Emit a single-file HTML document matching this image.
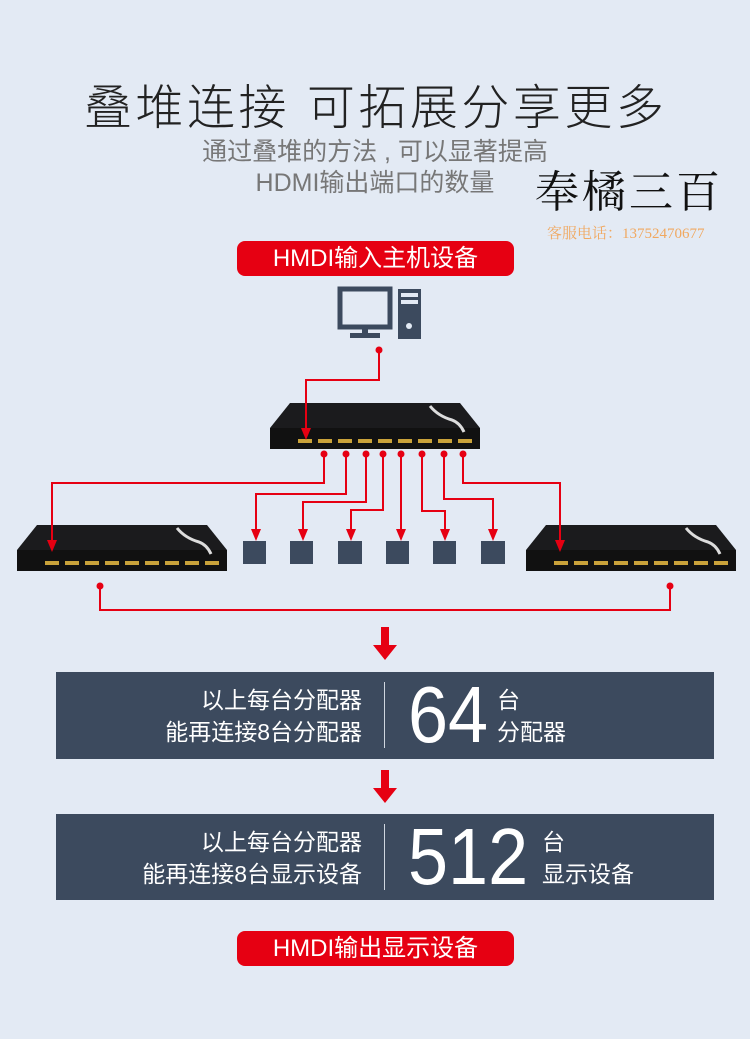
<!DOCTYPE html>
<html><head><meta charset="utf-8"><style>
body{margin:0;width:750px;height:1039px;background:#e3eaf4;position:relative;overflow:hidden;font-family:"Liberation Sans","Noto Sans CJK SC",sans-serif}
.a{position:absolute}
.btn{position:absolute;left:237px;width:277px;height:35px;background:#e60012;border-radius:8px;color:#fff;font-size:24px;line-height:35px;text-align:center}
.box{position:absolute;left:56px;width:658px;background:#3c4a5e;color:#fff}
.box .l{position:absolute;right:352px;text-align:right;font-size:23px;line-height:32px}
.box .d{position:absolute;left:328px;top:10px;width:1px;height:66px;background:#cfd6df}
.box .n{position:absolute;left:352px;font-size:80px;line-height:82px;top:2px;transform:scaleX(0.9);transform-origin:left}
.box .u{position:absolute;font-size:23px;line-height:32px}
</style></head><body>
<div class="a" style="left:84px;top:68px;font-size:48px;color:#222;letter-spacing:3.5px;white-space:nowrap;font-weight:300">叠堆连接 可拓展分享更多</div>
<div class="a" style="left:175px;top:137px;font-size:25px;color:#777;width:400px;text-align:center;line-height:31px">通过叠堆的方法 , 可以显著提高<br>HDMI输出端口的数量</div>
<div class="a" style="left:535px;top:160px;font-size:44px;line-height:56px;color:#111;font-family:'Noto Serif CJK SC',serif;letter-spacing:3px;white-space:nowrap">奉橘三百</div>
<div class="a" style="left:547px;top:222px;font-size:15px;color:#f0a860;font-family:'Liberation Serif','Noto Serif CJK SC',serif;white-space:nowrap">客服电话：13752470677</div>
<div class="btn" style="top:241px">HMDI输入主机设备</div>
<svg class="a" style="left:0;top:0" width="750" height="1039">
<rect x="340" y="289" width="50" height="38" fill="none" stroke="#3c4a5e" stroke-width="5"/>
<rect x="362" y="327" width="6" height="6" fill="#3c4a5e"/><rect x="350" y="333" width="30" height="5" fill="#3c4a5e"/>
<rect x="398" y="289" width="23" height="50" fill="#3c4a5e"/>
<rect x="401" y="293" width="17" height="4" fill="#e3eaf4"/><rect x="401" y="300" width="17" height="4" fill="#e3eaf4"/>
<circle cx="409" cy="326" r="3" fill="#e3eaf4"/>
<g id="sp"><polygon points="290,403 460,403 480,428 480,449 270,449 270,428" fill="#1b1b1d"/>
<rect x="270" y="428" width="210" height="21" fill="#111"/>
<path d="M430,406 q8,10 22,14 q8,3 12,12" stroke="#ddd" stroke-width="3" fill="none"/>
<g fill="#c9a23a"><rect x="298" y="439" width="14" height="4"/><rect x="318" y="439" width="14" height="4"/><rect x="338" y="439" width="14" height="4"/><rect x="358" y="439" width="14" height="4"/><rect x="378" y="439" width="14" height="4"/><rect x="398" y="439" width="14" height="4"/><rect x="418" y="439" width="14" height="4"/><rect x="438" y="439" width="14" height="4"/><rect x="458" y="439" width="14" height="4"/></g></g>
<use href="#sp" transform="translate(-253,122)"/>
<use href="#sp" transform="translate(256,122)"/>
<g fill="#3c4a5e"><rect x="243" y="541" width="23" height="23"/><rect x="290" y="541" width="23" height="23"/><rect x="338" y="541" width="24" height="23"/><rect x="386" y="541" width="23" height="23"/><rect x="433" y="541" width="23" height="23"/><rect x="481" y="541" width="24" height="23"/></g>
<g stroke="#e60012" stroke-width="2" fill="none">
<path d="M379,350 V380 H306 V430"/>
<path d="M324,454 V483 H52 V540"/>
<path d="M346,454 V494 H256 V530"/>
<path d="M366,454 V502 H303 V530"/>
<path d="M383,454 V510 H351 V530"/>
<path d="M401,454 V530"/>
<path d="M422,454 V511 H445 V530"/>
<path d="M444,454 V499 H493 V530"/>
<path d="M463,454 V483 H560 V540"/>
<path d="M100,586 V610 H670 V586"/>
</g>
<g fill="#e60012">
<circle cx="379" cy="350" r="3.5"/>
<circle cx="324" cy="454" r="3.5"/><circle cx="346" cy="454" r="3.5"/><circle cx="366" cy="454" r="3.5"/><circle cx="383" cy="454" r="3.5"/><circle cx="401" cy="454" r="3.5"/><circle cx="422" cy="454" r="3.5"/><circle cx="444" cy="454" r="3.5"/><circle cx="463" cy="454" r="3.5"/>
<circle cx="100" cy="586" r="3.5"/><circle cx="670" cy="586" r="3.5"/>
<path d="M301,428 h10 l-5,12z"/>
<path d="M47,540 h10 l-5,12z"/><path d="M555,540 h10 l-5,12z"/>
<path d="M251,529 h10 l-5,12z"/><path d="M298,529 h10 l-5,12z"/><path d="M346,529 h10 l-5,12z"/><path d="M396,529 h10 l-5,12z"/><path d="M440,529 h10 l-5,12z"/><path d="M488,529 h10 l-5,12z"/>
<path d="M381,627 h8 v18 h8 l-12,15 l-12,-15 h8z"/>
<path d="M381,770 h8 v18 h8 l-12,15 l-12,-15 h8z"/>
</g>
</svg>
<div class="box" style="top:672px;height:87px">
<div class="l" style="top:12px">以上每台分配器<br>能再连接8台分配器</div>
<div class="d"></div><div class="n">64</div>
<div class="u" style="left:441px;top:12px">台<br>分配器</div>
</div>
<div class="box" style="top:814px;height:86px">
<div class="l" style="top:12px">以上每台分配器<br>能再连接8台显示设备</div>
<div class="d"></div><div class="n">512</div>
<div class="u" style="left:486px;top:12px">台<br>显示设备</div>
</div>
<div class="btn" style="top:931px">HMDI输出显示设备</div>
</body></html>
